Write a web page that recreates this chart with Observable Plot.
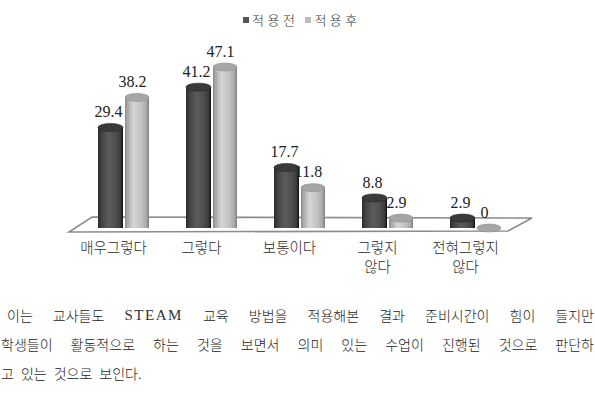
<!DOCTYPE html>
<html>
<head>
<meta charset="utf-8">
<script src="https://cdn.jsdelivr.net/npm/d3@7"></script>
<script src="https://cdn.jsdelivr.net/npm/@observablehq/plot@0.6"></script>
<style>
  html, body { margin: 0; padding: 0; background: #fff; }
  #page { position: relative; width: 595px; height: 407px; overflow: hidden; background: #fff; }
  #chart { position: absolute; left: 0; top: 0; }
  #legend { position: absolute; top: 11px; left: 243px; font-family: "Noto Sans CJK KR", sans-serif; font-size: 13px; font-weight: 300; color: #333; letter-spacing: 3.5px; white-space: nowrap; line-height: 18px; }
  #legend .sw { display: inline-block; width: 6px; height: 6px; margin-right: 3px; vertical-align: 2px; }
  #legend .item { display: inline-block; margin-right: 7px; }
  .line { position: absolute; font-family: "Noto Sans CJK KR", sans-serif; font-size: 14px; font-weight: 300; line-height: 20px; color: #222; white-space: nowrap; display: flex; justify-content: space-between; }
  .line.free { justify-content: flex-start; gap: 7px; }
  .latin { font-family: "Liberation Serif", serif; font-size: 15px; font-weight: 400; letter-spacing: 1.5px; color: #333; }
</style>
</head>
<body>
<div id="page">
  <div id="chart"></div>
  <div id="legend"></div>
  <div class="line" id="l1" style="left:7px; top:305px; width:587px;"></div>
  <div class="line" id="l2" style="left:1px; top:334px; width:593px;"></div>
  <div class="line free" id="l3" style="left:1px; top:363px;"></div>
</div>
<script>
const categories = ["매우그렇다", "그렇다", "보통이다", "그렇지\n않다", "전혀그렇지\n않다"];
const series = ["적용전", "적용후"];
const before = [29.4, 41.2, 17.7, 8.8, 2.9];
const after = [38.2, 47.1, 11.8, 2.9, 0];
const seriesColors = ["#555555", "#bbbbbb"];
const bodyLines = [
  "이는 교사들도 STEAM 교육 방법을 적용해본 결과 준비시간이 힘이 들지만",
  "학생들이 활동적으로 하는 것을 보면서 의미 있는 수업이 진행된 것으로 판단하",
  "고 있는 것으로 보인다."
];

const rowsBefore = categories.map((c, i) => ({cat: c, series: series[0], value: before[i]}));
const rowsAfter = categories.map((c, i) => ({cat: c, series: series[1], value: after[i]}));

// legend
const legend = document.getElementById("legend");
series.forEach((s, i) => {
  const it = document.createElement("span");
  it.className = "item";
  it.innerHTML = `<span class="sw" style="background:${seriesColors[i]}"></span>${s}`;
  legend.appendChild(it);
});

// body text
["l1", "l2", "l3"].forEach((id, k) => {
  const el = document.getElementById(id);
  bodyLines[k].split(" ").forEach(w => {
    const sp = document.createElement("span");
    if (/^[A-Z]+$/.test(w)) sp.className = "latin";
    sp.textContent = w;
    el.appendChild(sp);
  });
});

function floor(index, scales) {
  const xs = categories.map(c => scales.x(c));
  const step = xs[1] - xs[0];
  const left = xs[0], right = xs[xs.length - 1] + step;
  const y0 = scales.y(0);
  const g = d3.create("svg:g");
  const pts = [[left + 12, y0 - 11], [right + 12, y0 - 10], [right - 12, y0 + 3], [left - 11, y0 + 4]];
  g.append("polygon")
    .attr("points", pts.map(p => p.join(",")).join(" "))
    .attr("fill", "#fff")
    .attr("stroke", "#8c8c8c")
    .attr("stroke-width", 1.6);
  return g.node();
}

const serif = "'Liberation Serif', serif";
const kr = "'Noto Sans CJK KR', sans-serif";

const svg = Plot.plot({
  width: 595,
  height: 290,
  marginLeft: 80,
  marginRight: 75,
  marginTop: 0,
  marginBottom: 0,
  style: {background: "transparent", color: "#222"},
  x: {axis: null, domain: categories, range: [80, 520], padding: 0},
  y: {axis: null, domain: [0, 55], range: [228, 40]},
  marks: [
    floor,
    Plot.barY(rowsBefore, {x: "cat", y: "value", fill: "url(#gDark)", insetLeft: 18, insetRight: 45}),
    Plot.barY(rowsAfter, {x: "cat", y: "value", fill: "url(#gLight)", insetLeft: 45, insetRight: 19}),
    Plot.barY(rowsBefore, {x: "cat", y1: "value", y2: "value", fill: "#3a3a3a", stroke: "#2a2a2a", strokeWidth: 0.6, insetLeft: 18, insetRight: 45, insetTop: -4, insetBottom: -4, rx: 12, ry: 4}),
    Plot.barY(rowsAfter, {x: "cat", y1: "value", y2: "value", fill: "#a6a6a6", stroke: "#909090", strokeWidth: 0.6, insetLeft: 45, insetRight: 19, insetTop: -4, insetBottom: -4, rx: 12, ry: 4}),
    Plot.text(rowsBefore, {x: "cat", y: "value", text: d => String(d.value), dx: -16, dy: -16, fontSize: 16, fill: "#222", lineAnchor: "middle", fontFamily: serif}),
    Plot.text(rowsAfter, {x: "cat", y: "value", text: d => String(d.value), dx: 8, dy: -16, fontSize: 16, fill: "#222", lineAnchor: "middle", fontFamily: serif}),
    Plot.text(categories, {x: d => d, y: () => 0, text: d => d, dx: -11, dy: 11, lineAnchor: "top", fontSize: 14.5, lineHeight: 1.31, fill: "#2a2a2a", fontWeight: 300, fontFamily: kr})
  ]
});

svg.insertAdjacentHTML("afterbegin", `
<defs>
  <linearGradient id="gDark" x1="0" x2="1" y1="0" y2="0">
    <stop offset="0%" stop-color="#2c2c2c"/>
    <stop offset="15%" stop-color="#434343"/>
    <stop offset="45%" stop-color="#5c5c5c"/>
    <stop offset="75%" stop-color="#4b4b4b"/>
    <stop offset="90%" stop-color="#3a3a3a"/>
    <stop offset="100%" stop-color="#0e0e0e"/>
  </linearGradient>
  <linearGradient id="gLight" x1="0" x2="1" y1="0" y2="0">
    <stop offset="0%" stop-color="#8a8a8a"/>
    <stop offset="10%" stop-color="#a8a8a8"/>
    <stop offset="35%" stop-color="#d6d6d6"/>
    <stop offset="70%" stop-color="#c0c0c0"/>
    <stop offset="90%" stop-color="#a6a6a6"/>
    <stop offset="100%" stop-color="#7c7c7c"/>
  </linearGradient>
</defs>`);

document.getElementById("chart").appendChild(svg);
</script>
</body>
</html>
